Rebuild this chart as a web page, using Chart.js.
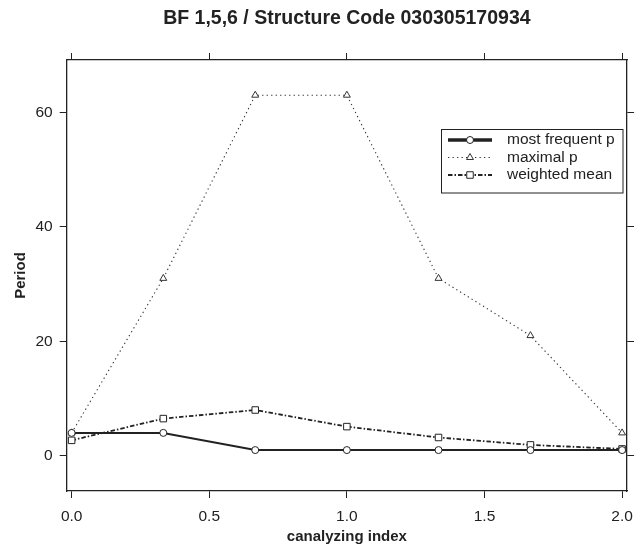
<!DOCTYPE html>
<html>
<head>
<meta charset="utf-8">
<script src="https://cdn.jsdelivr.net/npm/chart.js@4/dist/chart.umd.min.js"></script>
<style>
  html, body { margin: 0; padding: 0; background: #fff; }
  #wrap { width: 642px; height: 554px; }
</style>
</head>
<body>
<div id="wrap"><canvas id="c" width="642" height="554"></canvas></div>
<script>
// ---- data ----
const canalyzingIndex = [0, 0.333, 0.667, 1, 1.333, 1.667, 2];
const mostFrequentP = [4, 4, 1, 1, 1, 1, 1];
const maximalP = [4, 31, 63, 63, 31, 21, 4];
const weightedMean = [2.7, 6.5, 8.0, 5.1, 3.2, 1.9, 1.2];
const seriesNames = ['most frequent p', 'maximal p', 'weighted mean'];
const xTicks = [0, 0.5, 1, 1.5, 2];
const xTickLabels = ['0.0', '0.5', '1.0', '1.5', '2.0'];
const yTicks = [0, 20, 40, 60];
const yTickLabels = ['0', '20', '40', '60'];
const titleText = 'BF 1,5,6 / Structure Code 030305170934';
const xTitle = 'canalyzing index';
const yTitle = 'Period';

// ---- styles ----
const FAM = '"Liberation Sans", Arial, Helvetica, sans-serif';
const INK = '#222';
const tickFont = { family: FAM, size: 15.5 };
const axisTitleFont = { family: FAM, size: 15, weight: 'bold' };

const toPts = ys => canalyzingIndex.map((x, i) => ({ x: x, y: ys[i] }));

const datasets = [
  {
    label: seriesNames[0], data: toPts(mostFrequentP),
    borderColor: INK, borderWidth: 2, borderDash: [],
    pointStyle: 'circle', pointRadius: 3.5, pointBackgroundColor: '#fff',
    pointBorderColor: INK, pointBorderWidth: 1, legendWidth: 3.5
  },
  {
    label: seriesNames[1], data: toPts(maximalP),
    borderColor: '#333', borderWidth: 1.1, borderDash: [1.3, 3.2],
    pointStyle: 'triangle', pointRadius: 4, pointBackgroundColor: '#fff',
    pointBorderColor: '#333', pointBorderWidth: 1, legendWidth: 1.1
  },
  {
    label: seriesNames[2], data: toPts(weightedMean),
    borderColor: INK, borderWidth: 1.8, borderDash: [4.5, 2, 1.5, 2],
    pointStyle: 'rect', pointRadius: 4.6, pointBackgroundColor: '#fff',
    pointBorderColor: INK, pointBorderWidth: 1, legendWidth: 1.8
  }
];
datasets.forEach(d => {
  d.xAxisID = 'x'; d.yAxisID = 'y'; d.fill = false; d.tension = 0;
  d.pointHoverRadius = d.pointRadius;
});

const gridOpts = { drawOnChartArea: false, drawTicks: true, tickLength: 7, color: INK, lineWidth: 1 };
const borderOpts = { display: true, color: INK, width: 1.3 };
const X_MIN = -0.018, X_MAX = 2.018, Y_MIN = -6.15, Y_MAX = 69.15;

const setX = s => { s.ticks = xTicks.map(v => ({ value: v })); };
const setY = s => { s.ticks = yTicks.map(v => ({ value: v })); };

const deco = {
  id: 'deco',
  afterDraw(chart) {
    const ctx = chart.ctx;
    const ca = chart.chartArea;
    ctx.save();
    // title
    ctx.fillStyle = INK;
    ctx.font = 'bold 19.5px ' + FAM;
    ctx.textAlign = 'center';
    ctx.textBaseline = 'middle';
    ctx.fillText(titleText, (ca.left + ca.right) / 2, 19);

    // legend
    const bx = 441.5, by = 129.5, bw = 181.5, bh = 63.5;
    ctx.fillStyle = '#fff';
    ctx.fillRect(bx, by, bw, bh);
    ctx.strokeStyle = INK; ctx.lineWidth = 1; ctx.setLineDash([]);
    ctx.strokeRect(bx, by, bw, bh);
    const rows = [140, 157.5, 175];
    datasets.forEach((d, i) => {
      const y = rows[i];
      ctx.strokeStyle = d.borderColor;
      ctx.lineWidth = d.legendWidth;
      ctx.setLineDash(d.borderDash);
      ctx.beginPath(); ctx.moveTo(448, y); ctx.lineTo(492, y); ctx.stroke();
      ctx.setLineDash([]);
      ctx.fillStyle = '#fff';
      ctx.strokeStyle = d.pointBorderColor;
      ctx.lineWidth = d.pointBorderWidth;
      Chart.helpers.drawPoint(ctx, { pointStyle: d.pointStyle, radius: d.pointRadius, borderWidth: 1, rotation: 0 }, 470, y);
      ctx.fillStyle = INK;
      ctx.font = '15.5px ' + FAM;
      ctx.textAlign = 'left';
      ctx.textBaseline = 'middle';
      ctx.fillText(d.label, 507, y);
    });
    ctx.restore();
  }
};

new Chart(document.getElementById('c'), {
  type: 'line',
  data: { datasets: datasets },
  plugins: [deco],
  options: {
    responsive: false,
    animation: false,
    layout: { padding: 0 },
    plugins: { legend: { display: false }, title: { display: false }, tooltip: { enabled: false } },
    scales: {
      x: {
        type: 'linear', position: 'bottom', min: X_MIN, max: X_MAX,
        afterBuildTicks: setX,
        ticks: { callback: (v, i) => xTickLabels[i], padding: 9, font: tickFont, color: INK, maxRotation: 0, autoSkip: false },
        grid: gridOpts, border: borderOpts,
        title: { display: true, text: xTitle, font: axisTitleFont, color: INK, padding: { top: 0, bottom: 8 } },
        afterFit: s => { s.height = 63; }
      },
      xTop: {
        type: 'linear', position: 'top', min: X_MIN, max: X_MAX,
        afterBuildTicks: setX,
        ticks: { display: false },
        grid: gridOpts, border: borderOpts,
        afterFit: s => { s.height = 60; }
      },
      y: {
        type: 'linear', position: 'left', min: Y_MIN, max: Y_MAX,
        afterBuildTicks: setY,
        ticks: { callback: (v, i) => yTickLabels[i], padding: 7, font: tickFont, color: INK, autoSkip: false },
        grid: gridOpts, border: borderOpts,
        title: { display: true, text: yTitle, font: axisTitleFont, color: INK, padding: { top: 12, bottom: 0 } },
        afterFit: s => { s.width = 66.7; }
      },
      yRight: {
        type: 'linear', position: 'right', min: Y_MIN, max: Y_MAX,
        afterBuildTicks: setY,
        ticks: { display: false },
        grid: gridOpts, border: borderOpts,
        afterFit: s => { s.width = 9.3; }
      }
    }
  }
});
</script>
</body>
</html>
